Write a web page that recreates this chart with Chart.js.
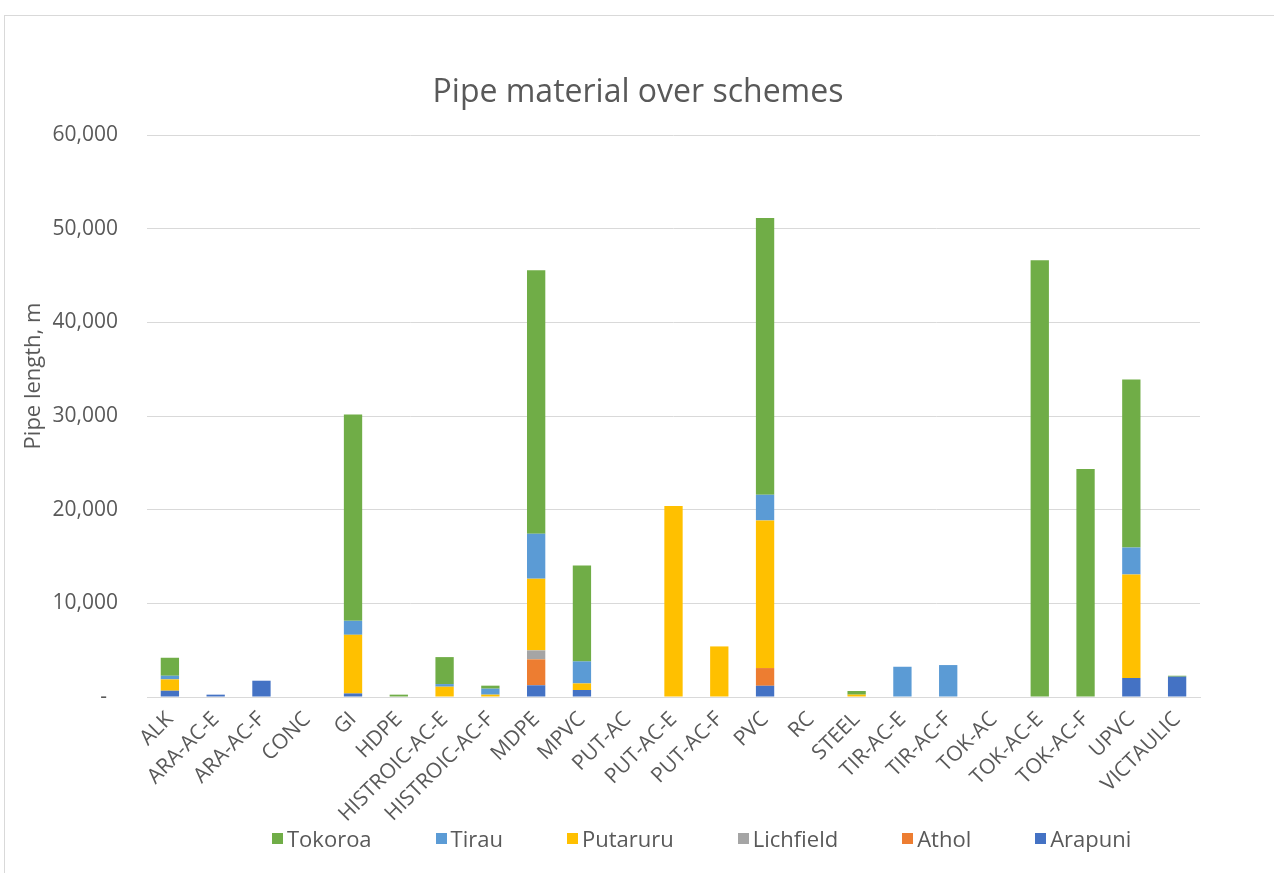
<!DOCTYPE html>
<html>
<head>
<meta charset="utf-8">
<title>Pipe material over schemes</title>
<script src="https://cdn.jsdelivr.net/npm/chart.js@4"></script>
<style>
  html, body { margin: 0; padding: 0; background: #fff; overflow: hidden; }
  body { font-family: 'Open Sans', 'Noto Sans', sans-serif; color: #595959; }
  #frame { position: absolute; left: 4px; top: 15px; width: 1400px; height: 1000px; border: 1px solid #d9d9d9; }
  #wrap { position: absolute; left: 0; top: 0; width: 1274px; height: 873px; }
  #title { position: absolute; left: 0; top: 70px; width: 1276px; text-align: center;
           font-size: 32px; line-height: 40px; }
  #ytitle { position: absolute; left: 31px; top: 376px; width: 240px; margin-left: -120px; margin-top: -15px;
            text-align: center; font-size: 22px; line-height: 30px; transform: rotate(-90deg); }
  #legend { position: absolute; left: 272px; top: 824px; display: flex; align-items: center;
            font-size: 22px; line-height: 28px; }
  #legend .item { display: flex; align-items: center; margin-right: 64px; }
  #legend .box { width: 11px; height: 11px; margin-right: 4px; }
</style>
</head>
<body>
<div id="frame"></div>
<div id="wrap"><canvas id="pipeChart"></canvas></div>
<div id="title">Pipe material over schemes</div>
<div id="ytitle">Pipe length, m</div>
<div id="legend"></div>
<script>
// pipe materials (x categories)
const materials = ['ALK', 'ARA-AC-E', 'ARA-AC-F', 'CONC', 'GI', 'HDPE', 'HISTROIC-AC-E', 'HISTROIC-AC-F',
    'MDPE', 'MPVC', 'PUT-AC', 'PUT-AC-E', 'PUT-AC-F', 'PVC', 'RC', 'STEEL', 'TIR-AC-E', 'TIR-AC-F',
    'TOK-AC', 'TOK-AC-E', 'TOK-AC-F', 'UPVC', 'VICTAULIC'];

// pipe length per scheme, m
const arapuni   = [670, 250, 1740, 0, 380, 0, 0, 0, 1250, 750, 0, 0, 0, 1200, 0, 0, 0, 0, 0, 0, 0, 2030, 2170];
const athol     = [0, 0, 0, 0, 0, 0, 0, 0, 2770, 0, 0, 0, 0, 1890, 0, 0, 0, 0, 0, 0, 0, 0, 0];
const lichfield = [0, 0, 0, 0, 0, 0, 0, 0, 960, 0, 0, 0, 0, 0, 0, 0, 0, 0, 0, 0, 0, 0, 0];
const putaruru  = [1210, 0, 0, 0, 6260, 0, 1100, 250, 7650, 700, 0, 20380, 5400, 15760, 0, 250, 0, 0, 0, 0, 0, 11050, 0];
const tirau     = [390, 0, 0, 0, 1490, 0, 280, 640, 4800, 2350, 0, 0, 0, 2740, 0, 0, 3230, 3410, 0, 0, 0, 2880, 0];
const tokoroa   = [1920, 0, 0, 0, 22020, 250, 2880, 320, 28140, 10240, 0, 0, 0, 29560, 0, 390, 0, 0, 0, 46640, 24330, 17940, 100];

const yTicks = [0, 10000, 20000, 30000, 40000, 50000, 60000];

const txt = '#595959';
const gridCol = '#d9d9d9';
const fontFam = "'Open Sans', 'Noto Sans', sans-serif";

const ctx = document.getElementById('pipeChart').getContext('2d');
const chart = new Chart(ctx, {
    type: 'bar',
    data: {
        labels: materials,
        datasets: [
            { label: 'Arapuni',   data: arapuni,   backgroundColor: '#4472c4' },
            { label: 'Athol',     data: athol,     backgroundColor: '#ed7d31' },
            { label: 'Lichfield', data: lichfield, backgroundColor: '#a5a5a5' },
            { label: 'Putaruru',  data: putaruru,  backgroundColor: '#ffc000' },
            { label: 'Tirau',     data: tirau,     backgroundColor: '#5b9bd5' },
            { label: 'Tokoroa',   data: tokoroa,   backgroundColor: '#70ad47' }
        ]
    },
    options: {
        responsive: true,
        maintainAspectRatio: false,
        animation: false,
        datasets: { bar: { categoryPercentage: 1, barPercentage: 0.4 } },
        layout: { padding: { left: 18, right: 74, top: 135, bottom: 36 } },
        plugins: {
            tooltip: { enabled: false },
            legend: { display: false },
            title: { display: false }
        },
        scales: {
            x: {
                stacked: true,
                grid: { display: false },
                border: { color: gridCol, width: 1 },
                ticks: {
                    color: txt,
                    font: { family: fontFam, size: 21 },
                    minRotation: 45,
                    maxRotation: 45,
                    autoSkip: false,
                    padding: 2
                },
                afterFit: function (scale) { scale.height = 140; }
            },
            y: {
                stacked: true,
                min: 0,
                max: 60000,
                afterBuildTicks: function (scale) { scale.ticks = yTicks.map(v => ({ value: v })); },
                grid: { color: gridCol, lineWidth: 1, drawTicks: false },
                border: { display: false },
                ticks: {
                    color: txt,
                    font: { family: fontFam, size: 21 },
                    padding: 29,
                    callback: function (v) { return v === 0 ? '-  ' : v.toLocaleString('en-US'); }
                },
                afterFit: function (scale) { scale.width = 129; }
            }
        }
    }
});

// legend, top of stack first
const legendEl = document.getElementById('legend');
chart.data.datasets.slice().reverse().forEach(ds => {
    const item = document.createElement('div');
    item.className = 'item';
    const box = document.createElement('span');
    box.className = 'box';
    box.style.background = ds.backgroundColor;
    const label = document.createElement('span');
    label.textContent = ds.label;
    item.appendChild(box);
    item.appendChild(label);
    legendEl.appendChild(item);
});
</script>
</body>
</html>
